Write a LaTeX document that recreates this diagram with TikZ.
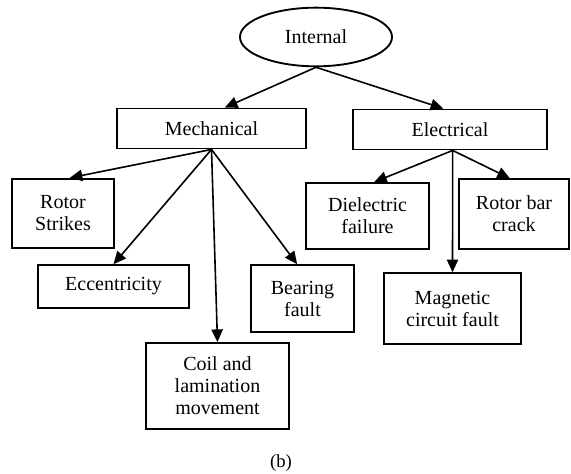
\documentclass[tikz,border=0pt]{standalone}
\usepackage{fontspec}
\setmainfont{Liberation Serif}
\usepackage{tikz}
\usetikzlibrary{shapes.geometric, positioning, arrows.meta}

\begin{document}
\begin{tikzpicture}[x=0.75pt, y=-0.75pt, >={Triangle[length=9.5pt, width=8.5pt]}]
        \tikzstyle{faultbox} = [draw=black, rectangle, line width=1.4pt, inner sep=2pt, align=center, font=\fontsize{15}{16.5}\selectfont]
        \tikzstyle{link} = [->, line width=1.2pt]
        \useasboundingbox (0,0) rectangle (571,474);

        \node[draw, ellipse, line width=1.4pt, minimum width=114pt, minimum height=44pt, font=\fontsize{15}{16.5}\selectfont] (internal) at (316,37) {Internal};

        \node[faultbox, minimum width=142pt, minimum height=30pt] (mech) at (211.5,128.5) {Mechanical};
        \node[faultbox, minimum width=146pt, minimum height=30pt] (elec) at (450,129.5) {Electrical};

        \node[faultbox, minimum width=76.5pt, minimum height=52pt] (rstrike) at (63,213.5) {Rotor\\Strikes};
        \node[faultbox, minimum width=113pt, minimum height=32pt] (ecc) at (113.5,286.5) {Eccentricity};
        \node[faultbox, minimum width=107pt, minimum height=64.5pt] (coil) at (217.5,386) {Coil and\\lamination\\movement};
        \node[faultbox, minimum width=77pt, minimum height=50pt] (bear) at (302.5,298.5) {Bearing\\fault};

        \node[faultbox, minimum width=92pt, minimum height=49.5pt] (diel) at (367.5,216) {Dielectric\\failure};
        \node[faultbox, minimum width=83pt, minimum height=52pt] (rbar) at (514,214) {Rotor bar\\crack};
        \node[faultbox, minimum width=103pt, minimum height=53pt] (magn) at (452.5,308.5) {Magnetic\\circuit fault};

        \node[font=\fontsize{14}{16}\selectfont] (cap) at (281,463) {(b)};

        \draw[link] (internal.south) -- ([xshift=10pt]mech.north);
        \draw[link] (internal.south) -- ([xshift=-5pt]elec.north);

        \draw[link] (mech.south) -- ([xshift=5pt]rstrike.north);
        \draw[link] (mech.south) -- (ecc.north);
        \draw[link] (mech.south) -- (coil.north);
        \draw[link] (mech.south) -- ([xshift=-4pt]bear.north);

        \draw[link] ([xshift=2pt]elec.south) -- ([xshift=5pt]diel.north);
        \draw[link] ([xshift=2pt]elec.south) -- ([xshift=-3pt]rbar.north);
        \draw[link] ([xshift=2pt]elec.south) -- (magn.north);
    \end{tikzpicture}
\end{document}
